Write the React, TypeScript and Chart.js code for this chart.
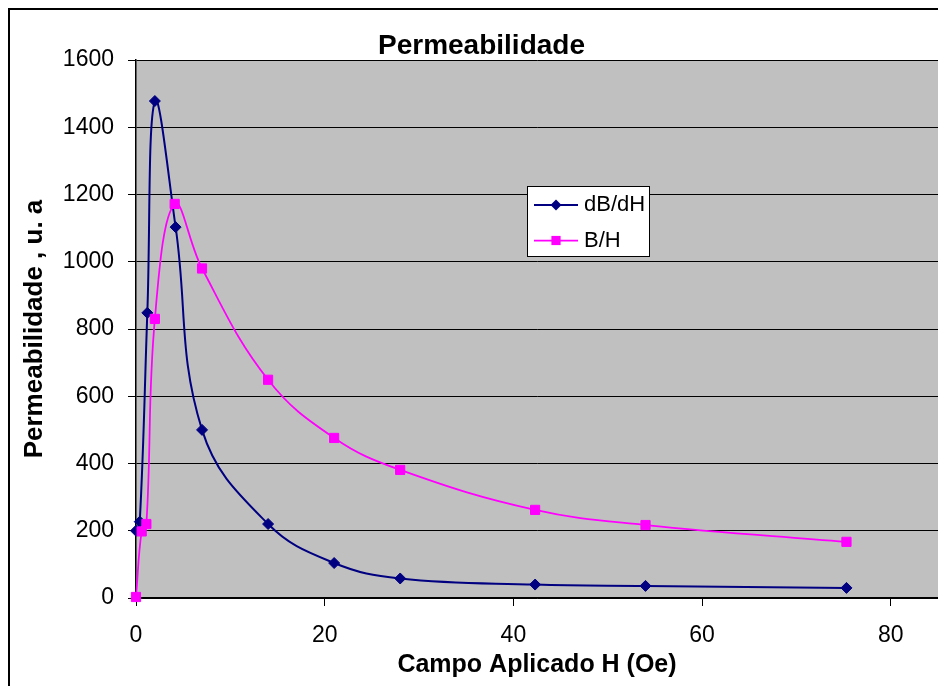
import React, { useEffect, useRef } from "react";
import { Chart, registerables } from "chart.js";

Chart.register(...registerables);

// ---- data ----
const H_DBDH = [0, 0.4, 1.2, 2.0, 4.2, 7.0, 14.0, 21.0, 28.0, 42.3, 54.0, 75.3];
const DBDH = [200, 227, 848, 1478, 1103, 500, 220, 104, 58, 40, 36, 30];
const H_BH = [0, 0.6, 1.1, 2.0, 4.1, 7.0, 14.0, 21.0, 28.0, 42.3, 54.0, 75.3];
const BH = [3, 198, 220, 830, 1172, 980, 649, 476, 381, 262, 217, 167];
const SERIES_LABELS = ["dB/dH", "B/H"];
const TITLE = "Permeabilidade";
const X_TITLE = "Campo Aplicado H (Oe)";
const Y_TITLE = "Permeabilidade , u. a";
const X_MIN = 0;
const X_MAX = 85;
const X_STEP = 20;
const Y_MIN = 0;
const Y_MAX = 1600;
const Y_STEP = 200;

const FONT = "'Liberation Sans', Arial, Helvetica, sans-serif";
const NAVY = "#000080";
const MAGENTA = "#FF00FF";

const plotBg = {
  id: "plotBg",
  beforeDraw(chart: any) {
    const { ctx, chartArea } = chart;
    const { left, top, width, height } = chartArea;
    ctx.save();
    ctx.fillStyle = "#C0C0C0";
    ctx.fillRect(left, top, width, height);
    ctx.restore();
  },
};

const boxLegend = {
  id: "boxLegend",
  afterDraw(chart: any) {
    const { ctx, chartArea } = chart;
    const x = Math.round(chartArea.left + 391);
    const y = Math.round(chartArea.top + 126);
    const w = 122;
    const h = 70;
    ctx.save();
    ctx.fillStyle = "#FFFFFF";
    ctx.fillRect(x, y, w, h);
    ctx.strokeStyle = "#000000";
    ctx.lineWidth = 1;
    ctx.strokeRect(x + 0.5, y + 0.5, w, h);
    chart.data.datasets.forEach((ds: any, i: number) => {
      const cy = y + 19 + i * 35.5;
      ctx.strokeStyle = ds.borderColor;
      ctx.lineWidth = ds.borderWidth;
      ctx.beginPath();
      ctx.moveTo(x + 7, cy);
      ctx.lineTo(x + 51, cy);
      ctx.stroke();
      const mx = x + 29;
      ctx.fillStyle = ds.pointBackgroundColor;
      ctx.beginPath();
      if (ds.pointStyle === "rectRot") {
        const r = ds.pointRadius;
        ctx.moveTo(mx, cy - r);
        ctx.lineTo(mx + r, cy);
        ctx.lineTo(mx, cy + r);
        ctx.lineTo(mx - r, cy);
        ctx.closePath();
      } else {
        const s = ds.pointRadius * Math.SQRT1_2;
        ctx.rect(mx - s, cy - s, 2 * s, 2 * s);
      }
      ctx.fill();
      ctx.fillStyle = "#000000";
      ctx.font = `22px ${FONT}`;
      ctx.textBaseline = "middle";
      ctx.textAlign = "left";
      ctx.fillText(ds.label, x + 57, cy);
    });
    ctx.restore();
  },
};

export default function App() {
  const ref = useRef<HTMLCanvasElement | null>(null);

  useEffect(() => {
    if (!ref.current) return;
    const dbdhPoints = H_DBDH.map((h, i) => ({ x: h, y: DBDH[i] }));
    const bhPoints = H_BH.map((h, i) => ({ x: h, y: BH[i] }));
    const chart = new Chart(ref.current, {
      type: "line",
      data: {
        datasets: [
          {
            label: SERIES_LABELS[0],
            data: dbdhPoints,
            borderColor: NAVY,
            backgroundColor: NAVY,
            pointBackgroundColor: NAVY,
            pointBorderColor: NAVY,
            pointStyle: "rectRot",
            pointRadius: 5.5,
            pointBorderWidth: 1,
            borderWidth: 2,
            tension: 0.4,
            fill: false,
            clip: false,
            order: 1,
          } as any,
          {
            label: SERIES_LABELS[1],
            data: bhPoints,
            borderColor: MAGENTA,
            backgroundColor: MAGENTA,
            pointBackgroundColor: MAGENTA,
            pointBorderColor: MAGENTA,
            pointStyle: "rect",
            pointRadius: 6.5,
            pointBorderWidth: 1,
            borderWidth: 1.75,
            tension: 0.4,
            fill: false,
            clip: false,
            order: 0,
          } as any,
        ],
      },
      options: {
        animation: false,
        responsive: false,
        layout: { autoPadding: false, padding: { left: 15, right: 2, top: 0, bottom: 2 } },
        plugins: {
          legend: { display: false },
          tooltip: { enabled: false },
          title: {
            display: true,
            text: TITLE,
            color: "#000",
            font: { family: FONT, size: 28, weight: "bold", lineHeight: 1 },
            padding: { top: 22, bottom: 0 },
          },
        },
        scales: {
          x: {
            type: "linear",
            min: X_MIN,
            max: X_MAX,
            afterFit: (s: any) => {
              s.height = 100;
              s.paddingLeft = 0;
              s.paddingRight = 0;
            },
            ticks: {
              stepSize: X_STEP,
              includeBounds: false,
              color: "#000",
              font: { family: FONT, size: 23 },
              padding: 16,
              maxRotation: 0,
              autoSkip: false,
              callback: (v: any) => String(v),
            },
            grid: {
              drawOnChartArea: false,
              drawTicks: true,
              tickLength: 8,
              color: "#000",
            },
            border: { color: "#000", width: 1.5 },
            title: {
              display: true,
              text: X_TITLE,
              color: "#000",
              font: { family: FONT, size: 25, weight: "bold", lineHeight: 1.2 },
              padding: { top: 0, bottom: 18 },
            },
          },
          y: {
            type: "linear",
            min: Y_MIN,
            max: Y_MAX,
            afterFit: (s: any) => {
              s.width = 111;
              s.paddingTop = 0;
              s.paddingBottom = 0;
            },
            ticks: {
              stepSize: Y_STEP,
              color: "#000",
              font: { family: FONT, size: 23 },
              padding: 14,
              callback: (v: any) => String(v),
            },
            grid: { color: "#000", tickLength: 8, lineWidth: 1 },
            border: { color: "#000", width: 1.5 },
            title: {
              display: true,
              text: Y_TITLE,
              color: "#000",
              font: { family: FONT, size: 26, weight: "bold", lineHeight: 1.2 },
              padding: { top: -6, bottom: 0 },
            },
          },
        },
      } as any,
      plugins: [plotBg, boxLegend],
    });
    return () => chart.destroy();
  }, []);

  return (
    <div
      style={{
        width: 930,
        height: 690,
        border: "2px solid #000",
        background: "#fff",
      }}
    >
      <canvas ref={ref} width={930} height={690} style={{ display: "block" }} />
    </div>
  );
}
